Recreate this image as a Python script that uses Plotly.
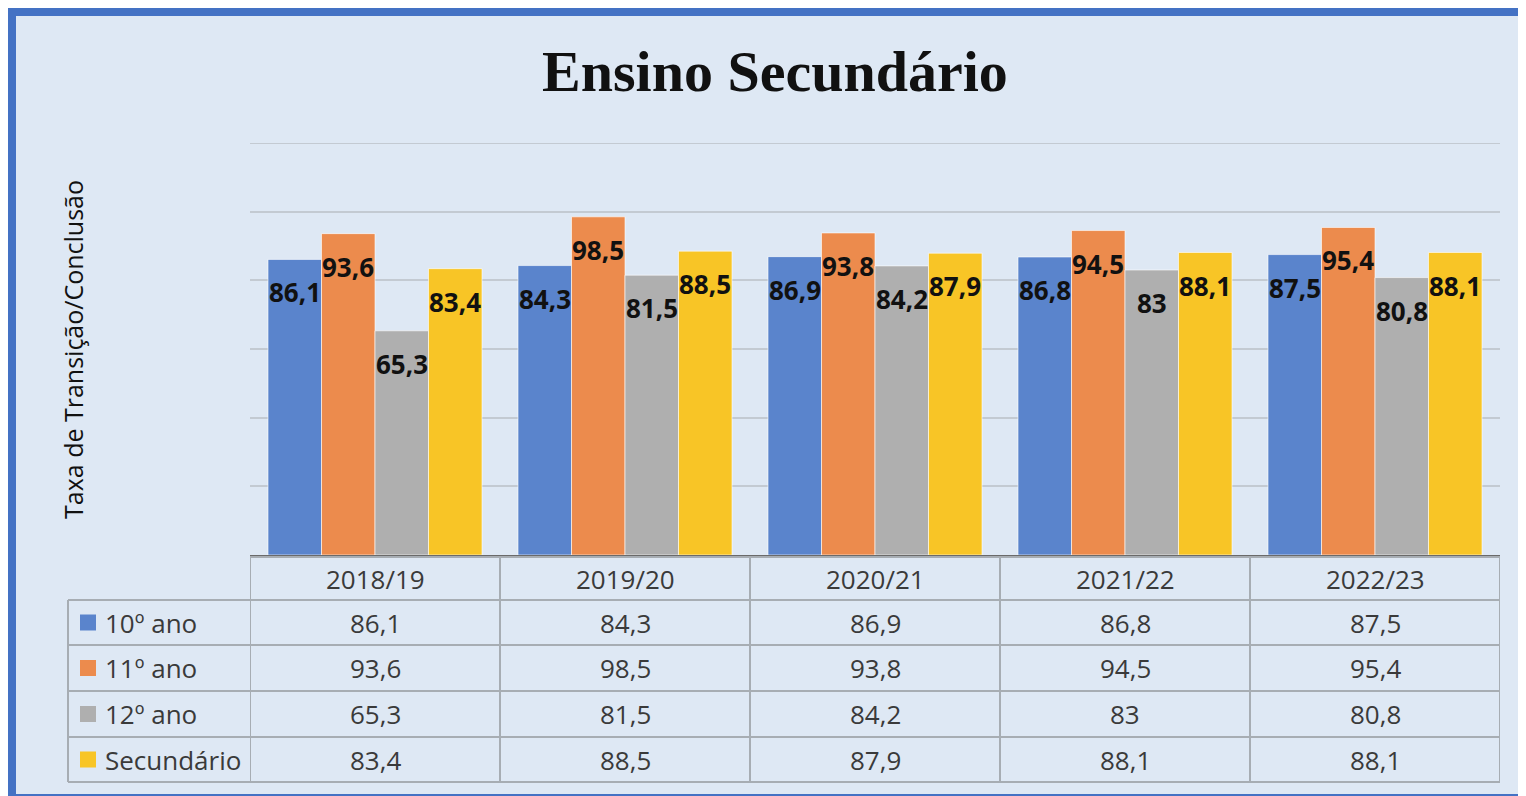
import plotly.graph_objects as go

# ---------------- data ----------------
categories = ["2018/19", "2019/20", "2020/21", "2021/22", "2022/23"]
series_names = ["10º ano", "11º ano", "12º ano", "Secundário"]
ano10 = [86.1, 84.3, 86.9, 86.8, 87.5]
ano11 = [93.6, 98.5, 93.8, 94.5, 95.4]
ano12 = [65.3, 81.5, 84.2, 83, 80.8]
secundario = [83.4, 88.5, 87.9, 88.1, 88.1]
series_values = [ano10, ano11, ano12, secundario]
colors = ["#5a84cc", "#ec8b4d", "#afafaf", "#f8c526"]

title_text = "Ensino Secundário"
ytitle = "Taxa de Transição/Conclusão"
y_max = 120
y_step = 20

# ---------------- geometry (page pixels) ----------------
OFF = 8                      # browser body margin
W, H = 1526 - OFF, 796 - OFF
PL, PR, PT, PB = 250, 1500, 143, 555  # plot area in page pixels
BARGAP = 0.144
GRID_COL = "#c3cad2"


def fx(p):
    return (p - PL) / (PR - PL)


def fy(p):
    return (PB - p) / (PB - PT)


def fmt(v):
    return f"{v:g}".replace(".", ",")


xs = list(range(len(categories)))
fig = go.Figure()
for name, vals, col in zip(series_names, series_values, colors):
    fig.add_trace(go.Bar(
        x=xs, y=vals, name=name,
        marker=dict(color=col, line=dict(color="rgba(255,255,255,0.6)", width=1)),
        hoverinfo="skip",
    ))

shapes = []
annotations = []

# background panel with blue border
shapes.append(dict(type="rect", xref="paper", yref="paper",
                   x0=fx(12), x1=fx(1600), y0=fy(12), y1=fy(798),
                   fillcolor="#dee8f4", line=dict(color="#4472c4", width=8),
                   layer="below"))
# top gridline at the axis maximum (plotly does not draw it at the edge)
shapes.append(dict(type="line", xref="paper", yref="y",
                   x0=0, x1=1, y0=y_max, y1=y_max,
                   line=dict(color=GRID_COL, width=2), layer="below"))

# data labels
n = len(series_values)
gw = 1 - BARGAP
bw = gw / n
for k, vals in enumerate(series_values):
    off = -gw / 2 + bw * (k + 0.5)
    for i, v in enumerate(vals):
        annotations.append(dict(x=i + off, y=v, xref="x", yref="y",
                                text=f"<b>{fmt(v)}</b>", showarrow=False,
                                yshift=-33, yanchor="middle", xanchor="center",
                                font=dict(family="Open Sans", size=26, color="#111111")))

# table
row_edges = [557, 600, 645, 691, 737, 782]
line_col = "#a7adb3"
tfont = dict(family="Open Sans", size=26, color="#3a3a3a")
for j, yy in enumerate(row_edges):
    x0 = fx(250) if j == 0 else fx(68)
    shapes.append(dict(type="line", xref="paper", yref="paper",
                       x0=x0, x1=fx(1500), y0=fy(yy), y1=fy(yy),
                       line=dict(color=line_col, width=2)))
for i in range(len(categories) + 1):
    shapes.append(dict(type="line", xref="x", yref="paper",
                       x0=i - 0.5, x1=i - 0.5, y0=fy(557), y1=fy(782),
                       line=dict(color=line_col, width=2)))
shapes.append(dict(type="line", xref="paper", yref="paper",
                   x0=fx(68), x1=fx(68), y0=fy(600), y1=fy(782),
                   line=dict(color=line_col, width=2)))
for i, c in enumerate(categories):
    annotations.append(dict(x=i, y=fy((row_edges[0] + row_edges[1]) / 2),
                            xref="x", yref="paper", text=c, showarrow=False,
                            xanchor="center", yanchor="middle", font=tfont))
for r, (name, vals, col) in enumerate(zip(series_names, series_values, colors)):
    yc = (row_edges[r + 1] + row_edges[r + 2]) / 2
    shapes.append(dict(type="rect", xref="paper", yref="paper",
                       x0=fx(80), x1=fx(96), y0=fy(yc - 8), y1=fy(yc + 8),
                       fillcolor=col, line=dict(width=0)))
    annotations.append(dict(x=fx(103), y=fy(yc), xref="paper", yref="paper",
                            text=name, showarrow=False, xanchor="left",
                            yanchor="middle", font=tfont))
    for i, v in enumerate(vals):
        annotations.append(dict(x=i, y=fy(yc), xref="x", yref="paper",
                                text=fmt(v), showarrow=False,
                                xanchor="center", yanchor="middle", font=tfont))

# y axis title
annotations.append(dict(x=fx(73), y=fy(350), xref="paper", yref="paper",
                        text=ytitle, textangle=-90, showarrow=False,
                        xanchor="center", yanchor="middle",
                        font=dict(family="Open Sans", size=25, color="#111111")))
# chart title
annotations.append(dict(x=fx(775), y=fy(72), xref="paper", yref="paper",
                        text=f"<b>{title_text}</b>", showarrow=False,
                        xanchor="center", yanchor="middle",
                        font=dict(family="Liberation Serif", size=58, color="#111111")))

fig.update_layout(
    width=W, height=H,
    margin=dict(l=PL - OFF, r=W - (PR - OFF), t=PT - OFF, b=H - (PB - OFF), pad=0),
    paper_bgcolor="white", plot_bgcolor="rgba(0,0,0,0)",
    barmode="group", bargap=BARGAP, bargroupgap=0,
    showlegend=False,
    shapes=shapes, annotations=annotations,
    xaxis=dict(range=[-0.5, len(categories) - 0.5], showticklabels=False,
               showgrid=False, zeroline=False, showline=True,
               linecolor="#6a6a6a", linewidth=3, ticks=""),
    yaxis=dict(range=[0, y_max], dtick=y_step, showticklabels=False,
               showgrid=True, gridcolor=GRID_COL, gridwidth=2,
               zeroline=False, showline=False, ticks=""),
)

fig.write_html("out.html")
